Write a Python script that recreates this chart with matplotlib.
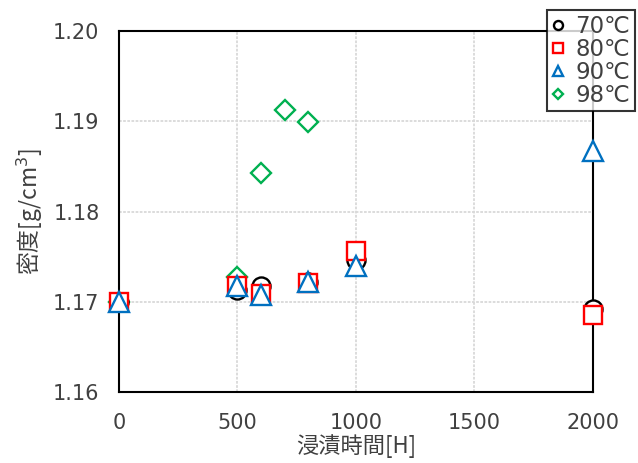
import numpy as np
import matplotlib
matplotlib.use("Agg")
import matplotlib.pyplot as plt

plt.rcParams.update({
    "font.family": ["DejaVu Sans", "Noto Sans CJK JP"],
    "font.size": 15,
})

# ---- data ----
HOURS = [0, 500, 600, 800, 1000, 2000]
HOURS_98 = [0, 500, 600, 700, 800]
D70 = [1.1700, 1.1713, 1.1718, 1.1722, 1.1746, 1.1692]
D80 = [1.1700, 1.1718, 1.1709, 1.1721, 1.1756, 1.1685]
D90 = [1.1700, 1.1718, 1.1707, 1.1722, 1.1740, 1.1867]
D98 = [1.1700, 1.1728, 1.1843, 1.1913, 1.1899]

XTICKS = [0, 500, 1000, 1500, 2000]
YTICKS = [1.16, 1.17, 1.18, 1.19, 1.20]

C_BLACK = "#000000"
C_RED = "#ff0000"
C_BLUE = "#0070c0"
C_GREEN = "#00b050"
C_GRID = "#d9d9d9"
C_TEXT = "#404040"

fig = plt.figure(figsize=(6.38, 4.63), dpi=100)
ax = fig.add_axes([0.1865, 0.1533, 0.7425, 0.7797])

series = [
    (HOURS, D70, "o", C_BLACK, 13, "70℃", 3),
    (HOURS, D80, "s", C_RED, 13, "80℃", 4),
    (HOURS, D90, "^", C_BLUE, 14, "90℃", 5),
    (HOURS_98, D98, "D", C_GREEN, 10.5, "98℃", 2),
]
handles = {}
for xs, ys, m, c, ms, lab, z in series:
    h, = ax.plot(xs, ys, ls="none", marker=m, ms=ms, mfc="white", mec=c,
                 mew=1.7, label=lab, zorder=z, clip_on=False)
    handles[lab] = h

ax.set_xlim(0, 2000)
ax.set_ylim(1.16, 1.20)
ax.set_xticks(XTICKS)
ax.set_yticks(YTICKS)
ax.set_yticklabels([f"{v:.2f}" for v in YTICKS])
ax.tick_params(length=0, labelsize=15, colors=C_TEXT)
ax.tick_params(axis="x", pad=15)
ax.tick_params(axis="y", pad=14)
ax.grid(True, color=C_GRID, lw=1.3, ls=(0, (1.5, 0.8)))
ax.set_axisbelow(True)
for s in ax.spines.values():
    s.set_color("black")
    s.set_linewidth(1.5)

ax.set_xlabel("浸漬時間[H]", family=["Noto Sans CJK JP"], fontsize=16,
              color=C_TEXT, labelpad=1)
ax.set_ylabel("密度[g/cm$^3$]", family=["Noto Sans CJK JP"], fontsize=16.5,
              color=C_TEXT, labelpad=6)

order = ["70℃", "80℃", "90℃", "98℃"]
leg = fig.legend([handles[k] for k in order], order, loc="upper right",
                 bbox_to_anchor=(0.995, 0.978), markerscale=0.5,
                 frameon=True, fancybox=False, edgecolor="black",
                 handlelength=0.6, handletextpad=0.45, borderpad=0.2,
                 labelspacing=0.0, borderaxespad=0.0, handleheight=0.6,
                 prop={"family": ["DejaVu Sans", "Noto Sans CJK JP"], "size": 16.5})
leg.get_frame().set_linewidth(1.5)
leg.set_zorder(10)
for t in leg.get_texts():
    t.set_color(C_TEXT)

fig.savefig("out.png", dpi=100)
